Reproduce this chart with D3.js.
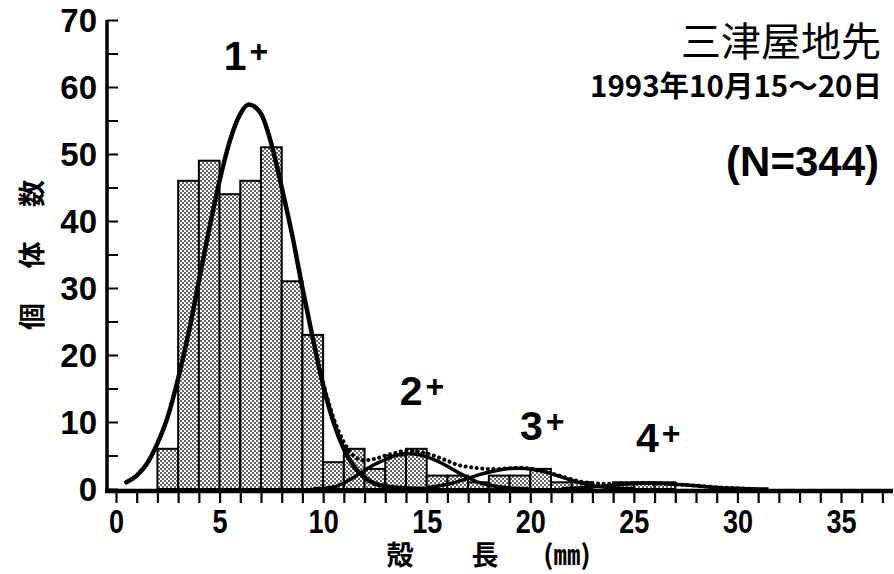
<!DOCTYPE html>
<html>
<head>
<meta charset="utf-8">
<style>
  html, body { margin: 0; padding: 0; background: #fff; }
  svg { display: block; }
  .tick-y { font-family: "Liberation Sans", Arial, sans-serif; font-weight: bold; font-size: 33px; }
  .tick-x { font-family: "Liberation Sans", Arial, sans-serif; font-weight: bold; font-size: 33px; }
  .age { font-family: "Liberation Sans", Arial, sans-serif; font-size: 41px; font-weight: bold; }
  .jp { font-family: "Noto Sans CJK JP", sans-serif; }
</style>
<title>殻長組成</title>
</head>
<body>
<script src="https://cdn.jsdelivr.net/npm/d3@7"></script>
<script>
// histogram: 1 mm classes, lower edge of each class (mm) and number of individuals
var binStarts = [2, 3, 4, 5, 6, 7, 8, 9, 10, 11, 12, 13, 14, 15, 16, 17, 18, 19, 20, 21, 22, 24, 25, 26]
var counts    = [6, 46, 49, 44, 46, 51, 31, 23, 4, 6, 3, 5, 6, 2, 2, 1, 2, 2, 3, 1, 1, 1, 1, 1]

// fitted age-group curves: [shell length mm, count]
var curve1 = [[0.5, 1.0], [1.0, 2.0], [1.5, 3.8], [2.0, 6.8], [2.5, 10.8], [3.0, 16.5], [3.5, 23.2], [4.0, 31], [4.5, 38.8],
  [5.0, 46], [5.5, 52], [6.0, 56], [6.4, 57.4], [7.0, 56], [7.5, 51.5], [8.0, 45], [8.5, 38], [9.0, 30], [9.5, 22.5],
  [10.0, 15.5], [10.5, 10], [11.0, 6], [11.5, 3.3], [12.0, 1.7], [12.5, 0.8], [13.0, 0.4], [14.0, 0.1], [15.0, 0]]
var curve2 = [[9.5, 0], [10.5, 0.3], [11.0, 0.9], [11.5, 1.8], [12.0, 2.8], [12.5, 3.7], [13.0, 4.4], [13.5, 5.0], [14.0, 5.3],
  [14.5, 5.2], [15.0, 4.8], [15.5, 4.2], [16.0, 3.4], [16.5, 2.5], [17.0, 1.7], [17.5, 1.0], [18.0, 0.6], [19.0, 0.15], [20.0, 0]]
var curve3 = [[15.0, 0.2], [15.5, 0.4], [16.0, 0.7], [16.5, 1.1], [17.0, 1.6], [17.5, 2.1], [18.0, 2.5], [18.5, 2.85], [19.0, 3.05],
  [19.5, 3.1], [20.0, 3.0], [20.5, 2.7], [21.0, 2.3], [21.5, 1.8], [22.0, 1.3], [22.5, 0.85], [23.0, 0.5], [24.0, 0.15], [25.0, 0.05]]
var curve4 = [[21.5, 0.05], [22.5, 0.2], [23.5, 0.45], [24.5, 0.7], [25.5, 0.85], [26.0, 0.85], [26.5, 0.8], [27.5, 0.6],
  [28.5, 0.35], [29.5, 0.15], [30.5, 0.05], [31.5, 0]]
// sum of the groups (dotted)
var curveTotal = [[10.0, 15.8], [10.5, 10.6], [11.0, 7.0], [11.5, 4.9], [12.0, 4.3], [12.5, 4.5], [13.0, 5.0], [13.5, 5.4],
  [14.0, 5.7], [14.5, 5.6], [15.0, 5.3], [15.5, 4.8], [16.0, 4.2], [16.5, 3.6], [17.0, 3.3], [17.5, 3.1], [18.0, 3.0],
  [18.5, 3.0], [19.0, 3.1], [19.5, 3.15], [20.0, 3.05], [20.5, 2.75], [21.0, 2.35], [21.5, 1.9], [22.0, 1.45], [22.5, 1.05],
  [23.0, 0.9], [23.5, 0.8], [24.0, 0.8], [25.0, 0.85], [26.0, 0.85], [27.0, 0.7], [28.0, 0.5], [29.0, 0.25], [30.0, 0.1], [31.0, 0]]

var xTicks = d3.range(0, 38)
var xLabels = [0, 5, 10, 15, 20, 25, 30, 35]
var yTicks = d3.range(0, 75, 5)
var yLabels = [0, 10, 20, 30, 40, 50, 60, 70]

var ageLabels = [
  {text: "1", at: [5.2, 62.5]},
  {text: "2", at: [13.7, 12.5]},
  {text: "3", at: [19.5, 7.3]},
  {text: "4", at: [25.1, 5.5]}
]
var title = "三津屋地先"
var subtitle = "1993年10月15～20日"
var nText = "(N=344)"
var yTitle = "個 体 数"
var xTitle = ["殻", "長", "(㎜)"]

var width = 894, height = 574

var x = d3.scaleLinear().domain([0, 35]).range([116, 841])
var y = d3.scaleLinear().domain([0, 70]).range([489, 20])

var svg = d3.select("body").append("svg")
  .attr("width", width)
  .attr("height", height)

// stipple fill for the bars
var pat = svg.append("defs").append("pattern")
  .attr("id", "stipple")
  .attr("patternUnits", "userSpaceOnUse")
  .attr("width", 4).attr("height", 4)
pat.append("rect").attr("width", 4).attr("height", 4).attr("fill", "#fff")
pat.append("rect").attr("width", 2).attr("height", 2).attr("fill", "#666")
pat.append("rect").attr("x", 2).attr("y", 2).attr("width", 2).attr("height", 2).attr("fill", "#666")

// bars
svg.selectAll("rect.bar")
  .data(binStarts.map((b, i) => ({b: b, n: counts[i]})))
  .enter().append("rect")
  .attr("class", "bar")
  .attr("x", d => x(d.b))
  .attr("y", d => y(d.n))
  .attr("width", d => x(d.b + 1) - x(d.b))
  .attr("height", d => y(0) - y(d.n))
  .attr("fill", "url(#stipple)")
  .attr("stroke", "#000")
  .attr("stroke-width", 2)

// curves
var line = d3.line()
  .x(d => x(d[0]))
  .y(d => y(d[1]))
  .curve(d3.curveMonotoneX)

svg.append("path").datum(curveTotal)
  .attr("d", line)
  .attr("fill", "none")
  .attr("stroke", "#000")
  .attr("stroke-width", 4)
  .attr("stroke-linecap", "round")
  .attr("stroke-dasharray", "0.1,5.5")

svg.append("path").datum(curve1)
  .attr("d", line)
  .attr("fill", "none")
  .attr("stroke", "#000")
  .attr("stroke-width", 4.5)
  .attr("stroke-linecap", "round")

;[curve2, curve3, curve4].forEach(c => {
  svg.append("path").datum(c)
    .attr("d", line)
    .attr("fill", "none")
    .attr("stroke", "#000")
    .attr("stroke-width", 3.5)
})

// x axis
var xAxis = svg.append("g")
  .attr("transform", `translate(0,${y(0) + 2})`)
  .call(d3.axisBottom(x).tickValues(xTicks).tickSize(12).tickSizeOuter(0)
    .tickFormat(d => xLabels.includes(d) ? d : ""))
xAxis.select(".domain").remove()
xAxis.selectAll(".tick line").attr("stroke", "#000").attr("stroke-width", 2.2)
xAxis.selectAll(".tick text")
  .attr("class", "tick-x")
  .attr("fill", "#000")
  .attr("y", 0)
  .attr("dy", 0)
  .attr("transform", "translate(0,42) scale(0.82,1)")
svg.append("line")
  .attr("x1", 105).attr("x2", 893)
  .attr("y1", y(0) + 2).attr("y2", y(0) + 2)
  .attr("stroke", "#000").attr("stroke-width", 4.5)

// y axis
var yAxis = svg.append("g")
  .attr("transform", "translate(107,0)")
  .call(d3.axisRight(y).tickValues(yTicks).tickSize(11).tickSizeOuter(0).tickFormat(""))
yAxis.select(".domain").remove()
yAxis.selectAll(".tick line").attr("stroke", "#000").attr("stroke-width", 2)
svg.append("line")
  .attr("x1", 107).attr("x2", 107)
  .attr("y1", y(70)).attr("y2", y(0) + 4)
  .attr("stroke", "#000").attr("stroke-width", 3.5)

svg.selectAll("text.ylab")
  .data(yLabels)
  .enter().append("text")
  .attr("class", "tick-y")
  .attr("x", 97)
  .attr("y", d => y(d))
  .attr("dy", "0.36em")
  .attr("text-anchor", "end")
  .text(d => d)

// age group labels
svg.selectAll("text.age")
  .data(ageLabels)
  .enter().append("text")
  .attr("class", "age")
  .attr("x", d => x(d.at[0]))
  .attr("y", d => y(d.at[1]))
  .each(function (d) {
    var t = d3.select(this)
    t.append("tspan").text(d.text)
    t.append("tspan").attr("dx", 3).attr("dy", -8).attr("font-size", 32).text("+")
  })

// titles
svg.append("text")
  .attr("class", "jp")
  .attr("x", 881).attr("y", 56)
  .attr("text-anchor", "end")
  .attr("font-size", 40)
  .text(title)
svg.append("text")
  .attr("class", "jp")
  .attr("x", 882).attr("y", 97)
  .attr("text-anchor", "end")
  .attr("font-size", 29)
  .attr("font-weight", "bold")
  .attr("textLength", 292)
  .attr("lengthAdjust", "spacingAndGlyphs")
  .text(subtitle)
svg.append("text")
  .attr("x", 879).attr("y", 176)
  .attr("text-anchor", "end")
  .attr("font-family", "Liberation Sans, Arial, sans-serif")
  .attr("font-weight", "bold")
  .attr("font-size", 42)
  .text(nText)

svg.append("text")
  .attr("class", "jp")
  .attr("transform", "translate(42,255) rotate(-90)")
  .attr("text-anchor", "middle")
  .attr("font-size", 27)
  .attr("font-weight", "bold")
  .attr("textLength", 150)
  .attr("lengthAdjust", "spacing")
  .text(yTitle)

svg.selectAll("text.xtitle")
  .data(xTitle)
  .enter().append("text")
  .attr("class", "jp")
  .attr("x", (d, i) => [400, 485, 567][i])
  .attr("y", 565)
  .attr("text-anchor", "middle")
  .attr("font-size", 27)
  .attr("font-weight", "bold")
  .text(d => d)
</script>
</body>
</html>
